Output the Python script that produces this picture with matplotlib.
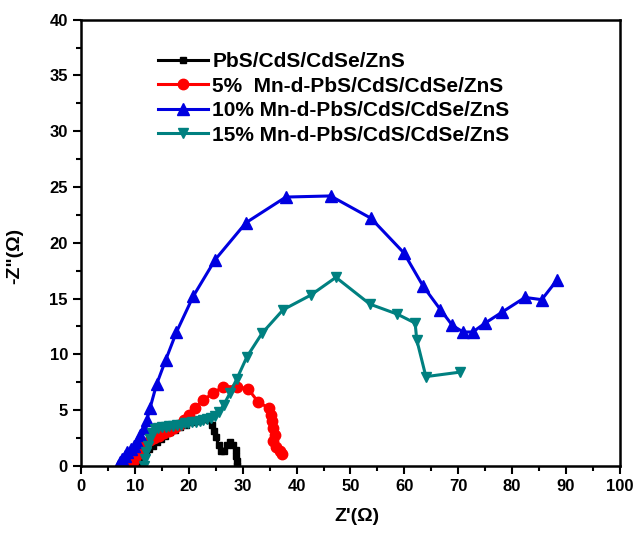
import numpy as np
import matplotlib.pyplot as plt

plt.rcParams['font.family'] = ['Liberation Sans', 'DejaVu Sans']
plt.rcParams['font.weight'] = 'bold'

labels = ['PbS/CdS/CdSe/ZnS',
          '5%  Mn-d-PbS/CdS/CdSe/ZnS',
          '10% Mn-d-PbS/CdS/CdSe/ZnS',
          '15% Mn-d-PbS/CdS/CdSe/ZnS']

# PbS/CdS/CdSe/ZnS
x0 = [10.6, 11.0, 11.5, 12.0, 12.6, 13.3, 14.0, 14.8, 15.6, 16.5, 17.4, 18.4, 19.4, 20.4,
      21.4, 22.3, 23.1, 23.7, 24.2, 24.6, 25.0, 25.5, 26.0, 26.5, 27.0, 27.6, 28.2, 28.7,
      28.8, 28.9, 29.0]
y0 = [0.0, 0.4, 0.8, 1.2, 1.5, 1.8, 2.1, 2.4, 2.7, 3.0, 3.2, 3.5, 3.7, 3.9,
      4.0, 4.1, 4.2, 4.1, 3.7, 3.1, 2.6, 1.9, 1.3, 1.3, 1.9, 2.1, 1.9, 1.4,
      0.9, 0.4, 0.0]

# 5% Mn
x5 = [9.4, 9.8, 10.2, 10.7, 11.3, 12.0, 12.8, 13.6, 14.5, 15.4, 16.3, 17.2, 18.1, 19.0,
      20.0, 21.1, 22.7, 24.4, 26.4, 28.9, 31.0, 32.9, 34.8, 35.2, 35.4, 35.7, 36.0, 35.7,
      36.2, 36.9, 37.2]
y5 = [0.1, 0.5, 0.9, 1.3, 1.7, 2.0, 2.3, 2.5, 2.7, 2.9, 3.1, 3.4, 3.7, 4.1,
      4.6, 5.2, 5.9, 6.5, 7.1, 7.1, 6.9, 5.7, 5.2, 4.6, 4.0, 3.4, 2.8, 2.2,
      1.7, 1.3, 1.1]

# 10% Mn
x10 = [6.8, 7.2, 7.6, 8.1, 8.6, 9.2, 9.8, 10.3, 10.9, 11.6, 12.2, 12.8, 14.0, 15.7,
       17.7, 20.8, 24.9, 30.6, 38.0, 46.3, 53.8, 59.9, 63.5, 66.7, 68.9, 70.9, 72.7, 75.0,
       78.2, 82.4, 85.5, 88.4]
y10 = [0.0, 0.3, 0.6, 0.9, 1.2, 1.5, 1.8, 2.1, 2.8, 3.4, 4.1, 5.2, 7.3, 9.5,
       12.0, 15.2, 18.5, 21.8, 24.1, 24.2, 22.2, 19.1, 16.1, 14.0, 12.6, 12.0, 12.0, 12.8,
       13.8, 15.1, 14.9, 16.7]

# 15% Mn
x15 = [11.6, 11.8, 12.1, 12.4, 12.8, 13.2, 13.7, 14.3, 15.0, 15.7, 16.4, 17.1, 17.8, 18.5,
       19.2, 19.9, 20.6, 21.3, 22.0, 22.7, 23.4, 24.1, 24.8, 25.6, 26.5, 27.6, 28.9, 30.8,
       33.6, 37.5, 42.6, 47.3, 53.6, 58.7, 62.0, 62.3, 64.0, 70.3]
y15 = [0.0, 0.6, 1.2, 1.8, 2.4, 2.9, 3.3, 3.4, 3.5, 3.5, 3.6, 3.6, 3.7, 3.7,
       3.8, 3.8, 3.9, 3.9, 4.0, 4.1, 4.2, 4.3, 4.5, 4.8, 5.5, 6.5, 7.8, 9.8,
       11.9, 14.0, 15.3, 16.9, 14.5, 13.6, 12.8, 11.3, 8.0, 8.4]

fig = plt.figure(figsize=(6.39, 5.33), dpi=100)
ax = fig.add_axes([0.127, 0.126, 0.843, 0.837])

ax.plot(x0, y0, '-s', color='black', lw=2.2, ms=5, label=labels[0])
ax.plot(x5, y5, '-o', color='#FF0000', lw=2.2, ms=7.5, label=labels[1])
ax.plot(x10, y10, '-^', color='#0000E0', lw=2.2, ms=8.5, label=labels[2])
ax.plot(x15, y15, '-v', color='#008080', lw=2.2, ms=7.5, label=labels[3])

ax.set_xlim(0, 100)
ax.set_ylim(0, 40)
ax.set_xticks(np.arange(0, 101, 10))
ax.set_yticks(np.arange(0, 41, 5))
ax.set_xticks(np.arange(5, 100, 10), minor=True)
ax.set_yticks(np.arange(2.5, 40, 5), minor=True)
ax.tick_params(which='major', direction='out', length=6, width=1.5, labelsize=12)
ax.tick_params(which='minor', direction='out', length=3.5, width=1.5)
for s in ax.spines.values():
    s.set_linewidth(1.8)

ax.set_xlabel("Z'(\u03a9)", fontsize=14, fontweight='bold')
ax.set_ylabel('-Z"(\u03a9)', fontsize=14, fontweight='bold')
ax.xaxis.set_label_coords(0.512, -0.095)
ax.yaxis.set_label_coords(-0.107, 0.47)

ax.legend(loc='upper left', bbox_to_anchor=(0.143, 0.927), frameon=False,
          fontsize=15, handlelength=2.4, handletextpad=0.2, labelspacing=0.26,
          borderaxespad=0, borderpad=0)

fig.savefig('out.png', dpi=100)
